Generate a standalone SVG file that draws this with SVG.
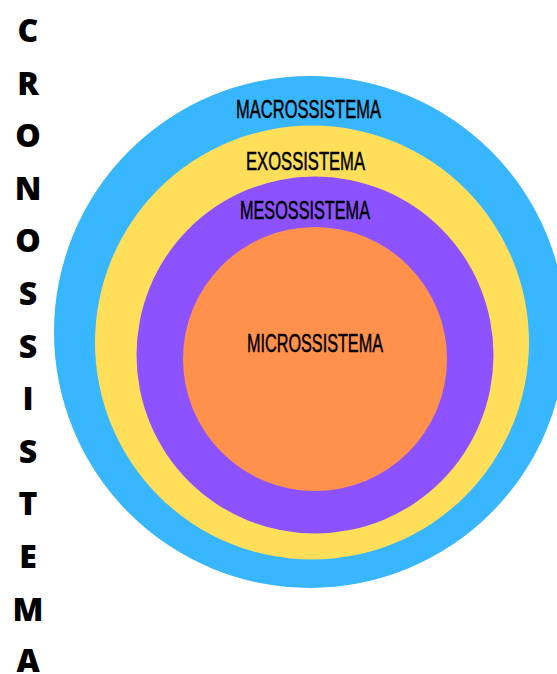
<svg xmlns="http://www.w3.org/2000/svg" width="557" height="674" viewBox="0 0 557 674">
<style>
.lbl{font-family:"Liberation Sans",Arial,sans-serif;font-size:25px;fill:#000;stroke:#000;stroke-width:0.5px;text-anchor:middle}
.v{font-family:"Open Sans","Liberation Sans",sans-serif;font-weight:800;font-size:32px;fill:#000;text-anchor:middle}
</style>
<rect width="557" height="674" fill="#fff"/>
<g id="macrossistema">
<circle cx="310" cy="332" r="256" fill="#38B6FF"/>
<text class="lbl" x="308.5" y="118" textLength="145" lengthAdjust="spacingAndGlyphs">MACROSSISTEMA</text>
</g>
<g id="exossistema">
<circle cx="312" cy="342.5" r="217" fill="#FFDE59"/>
<text class="lbl" x="305.5" y="170" textLength="119" lengthAdjust="spacingAndGlyphs">EXOSSISTEMA</text>
</g>
<g id="mesossistema">
<circle cx="315" cy="355" r="178.5" fill="#8C52FF"/>
<text class="lbl" x="305" y="219" textLength="130" lengthAdjust="spacingAndGlyphs">MESOSSISTEMA</text>
</g>
<g id="microssistema">
<circle cx="315" cy="359" r="132" fill="#FF914D"/>
<text class="lbl" x="315" y="352" textLength="136" lengthAdjust="spacingAndGlyphs">MICROSSISTEMA</text>
</g>
<g id="cronossistema">
<text class="v" x="28" y="42">C</text>
<text class="v" x="28" y="94.6">R</text>
<text class="v" x="28" y="147.2">O</text>
<text class="v" x="28" y="199.8">N</text>
<text class="v" x="28" y="252.4">O</text>
<text class="v" x="28" y="305">S</text>
<text class="v" x="28" y="357.6">S</text>
<text class="v" x="28" y="410.2">I</text>
<text class="v" x="28" y="462.8">S</text>
<text class="v" x="28" y="515.4">T</text>
<text class="v" x="28" y="568">E</text>
<text class="v" x="28" y="620.6">M</text>
<text class="v" x="28" y="671.5">A</text>
</g>
<g id="connectors"/>
</svg>
